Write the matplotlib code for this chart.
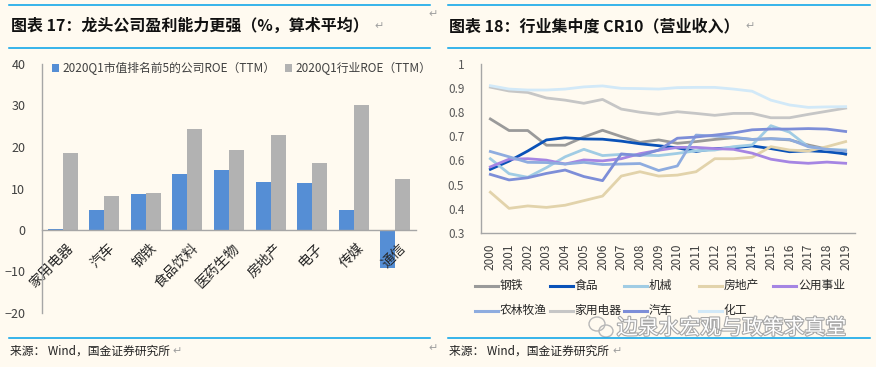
import numpy as np
import matplotlib.pyplot as plt
from matplotlib.lines import Line2D
from matplotlib.patches import Ellipse
import matplotlib.patheffects as pe

plt.rcParams['font.family'] = ['Noto Sans CJK SC', 'DejaVu Sans']

BG = '#fffaf0'
RULE = '#00a0e9'
W, H = 876, 367

# --- left chart: ROE by industry ---
industries = ['家用电器', '汽车', '钢铁', '食品饮料', '医药生物', '房地产', '电子', '传媒', '通信']
top5_roe = [0.2, 4.7, 8.7, 13.4, 14.5, 11.5, 11.4, 4.7, -9.2]
industry_roe = [18.6, 8.3, 8.9, 24.4, 19.2, 23.0, 16.1, 30.1, 12.4]
left_labels = ['2020Q1市值排名前5的公司ROE（TTM）', '2020Q1行业ROE（TTM）']

# --- right chart: CR10 by industry ---
years = list(range(2000, 2020))
steel = [0.772, 0.724, 0.724, 0.663, 0.663, 0.697, 0.725, 0.699, 0.675, 0.685,
         0.671, 0.678, 0.687, 0.694, 0.687, 0.690, 0.685, 0.664, 0.647, 0.625]
food = [0.563, 0.597, 0.639, 0.685, 0.694, 0.689, 0.688, 0.680, 0.669, 0.661,
        0.652, 0.637, 0.649, 0.652, 0.660, 0.649, 0.636, 0.640, 0.636, 0.627]
machinery = [0.607, 0.545, 0.530, 0.570, 0.615, 0.646, 0.620, 0.625, 0.622, 0.620,
             0.629, 0.640, 0.643, 0.657, 0.664, 0.744, 0.717, 0.657, 0.646, 0.643]
real_estate = [0.468, 0.401, 0.411, 0.405, 0.414, 0.433, 0.452, 0.535, 0.553, 0.535,
               0.539, 0.553, 0.607, 0.607, 0.613, 0.657, 0.643, 0.639, 0.657, 0.678]
utilities = [0.573, 0.605, 0.607, 0.601, 0.585, 0.602, 0.598, 0.607, 0.628, 0.642,
             0.654, 0.654, 0.649, 0.646, 0.630, 0.605, 0.593, 0.588, 0.593, 0.588]
agri = [0.637, 0.615, 0.592, 0.591, 0.585, 0.592, 0.583, 0.585, 0.587, 0.558,
        0.577, 0.705, 0.701, 0.696, 0.687, 0.690, 0.687, 0.657, 0.646, 0.639]
appliance = [0.904, 0.888, 0.882, 0.859, 0.850, 0.837, 0.853, 0.813, 0.800, 0.791,
             0.802, 0.795, 0.787, 0.795, 0.795, 0.777, 0.777, 0.791, 0.804, 0.817]
auto = [0.542, 0.519, 0.528, 0.546, 0.560, 0.533, 0.516, 0.627, 0.620, 0.643,
        0.692, 0.697, 0.705, 0.714, 0.727, 0.730, 0.730, 0.732, 0.730, 0.720]
chem = [0.910, 0.896, 0.892, 0.892, 0.896, 0.905, 0.909, 0.899, 0.898, 0.896,
        0.902, 0.903, 0.903, 0.896, 0.887, 0.850, 0.830, 0.820, 0.822, 0.823]

series_names = ['钢铁', '食品', '机械', '房地产', '公用事业', '农林牧渔', '家用电器', '汽车', '化工']
series_data = [steel, food, machinery, real_estate, utilities, agri, appliance, auto, chem]
series_colors = ['#9a9a9a', '#0a52b8', '#a0cce4', '#e2d3ab', '#a585e3',
                 '#8eacdf', '#c6c6c6', '#7d8ed8', '#d2e9f8']

fig = plt.figure(figsize=(W / 100, H / 100), dpi=100, facecolor=BG)


def fx(px):
    return px / W


def fy(py):
    return 1 - py / H


# header / footer rules and texts
for x0, x1 in [(9, 430), (448, 870)]:
    for py in (4.7, 47.7, 338):
        fig.add_artist(Line2D([fx(x0), fx(x1)], [fy(py), fy(py)], color=RULE, lw=1.1,
                              transform=fig.transFigure))

fig.text(fx(11), fy(26), '图表 17：龙头公司盈利能力更强（%，算术平均）', fontsize=11.5,
         fontweight='bold', va='center', color='#111111')
fig.text(fx(449), fy(26), '图表 18：行业集中度 CR10（营业收入）', fontsize=11.5,
         fontweight='bold', va='center', color='#111111')
fig.text(fx(10), fy(351), '来源： Wind，国金证券研究所', fontsize=8.5, va='center', color='#222222')
fig.text(fx(449), fy(351), '来源： Wind，国金证券研究所', fontsize=8.5, va='center', color='#222222')
for px, py in [(374, 26), (428, 14), (745, 26), (172, 351), (428, 348), (612, 351)]:
    fig.text(fx(px), fy(py), '↵', fontsize=8, va='center', color='#a0a0a0',
             family=['DejaVu Sans'])

# ---------------- left chart ----------------
ax1 = fig.add_axes([fx(42), fy(313), fx(416 - 42), (313 - 64) / H])
ax1.set_facecolor(BG)
# spine position first: moving a spine resets the tick labels
ax1.spines['bottom'].set_position(('data', 0))
for sp in ['top', 'right']:
    ax1.spines[sp].set_visible(False)
for sp in ['left', 'bottom']:
    ax1.spines[sp].set_color('#a6a6a6')
    ax1.spines[sp].set_linewidth(1.0)

x = np.arange(len(industries))
bw = 0.36
ax1.bar(x - bw / 2, top5_roe, bw, color='#558ed5', label=left_labels[0])
ax1.bar(x + bw / 2, industry_roe, bw, color='#b2b2b2', label=left_labels[1])
ax1.set_xlim(-0.5, len(industries) - 0.5)
ax1.set_ylim(-20, 40)
ax1.set_yticks(range(-20, 41, 10))
ax1.set_xticks(x + 0.08)
ax1.set_xticklabels(industries)
ax1.tick_params(axis='y', length=0, pad=12, labelsize=9, labelcolor='#404040')
ax1.tick_params(axis='x', length=0, pad=8, labelsize=10, labelcolor='#262626')
for lbl in ax1.get_xticklabels():
    lbl.set_rotation(45)
    lbl.set_ha('right')
    lbl.set_rotation_mode('anchor')
ax1.legend(ncol=2, loc='upper left', bbox_to_anchor=(fx(52), fy(62)), bbox_transform=fig.transFigure,
           frameon=False, fontsize=8.5, handlelength=0.6, handleheight=0.6, handletextpad=0.3,
           columnspacing=0.8, borderpad=0, borderaxespad=0, labelcolor='#404040')

# ---------------- right chart ----------------
ax2 = fig.add_axes([fx(481), fy(232.7), fx(855 - 481), (232.7 - 64) / H])
ax2.set_facecolor(BG)
xi = np.arange(len(years))
for name, vals, col in zip(series_names, series_data, series_colors):
    ax2.plot(xi, vals, color=col, lw=2.0, label=name)
ax2.set_xlim(-0.5, len(years) - 0.5)
ax2.set_ylim(0.3, 1.0)
ax2.set_yticks(np.round(np.arange(0.3, 1.01, 0.1), 1))
ax2.set_yticklabels(['0.3', '0.4', '0.5', '0.6', '0.7', '0.8', '0.9', '1'])
ax2.set_xticks(xi)
ax2.set_xticklabels([str(y) for y in years], rotation=90)
for sp in ['top', 'right']:
    ax2.spines[sp].set_visible(False)
for sp in ['left', 'bottom']:
    ax2.spines[sp].set_color('#a6a6a6')
    ax2.spines[sp].set_linewidth(1.0)
ax2.tick_params(axis='y', length=0, pad=12, labelsize=8.5, labelcolor='#595959')
ax2.tick_params(axis='x', length=0, pad=8, labelsize=8.5, labelcolor='#404040')

# legend laid out in equal-width cells like the source
for i, (name, col) in enumerate(zip(series_names, series_colors)):
    r, c = divmod(i, 5)
    lx = 475 + 74.5 * c
    ly = 285.7 + 25 * r
    fig.add_artist(Line2D([fx(lx), fx(lx + 23)], [fy(ly), fy(ly)], color=col, lw=2.2,
                          transform=fig.transFigure))
    fig.text(fx(lx + 25), fy(ly), name, fontsize=8.5, va='center', color='#262626')

# watermark
fig.add_artist(Ellipse((fx(597), fy(324)), fx(16), 14 / H, fill=False, ec='#b8b8b8', lw=1.0,
                       transform=fig.transFigure))
fig.add_artist(Ellipse((fx(606), fy(331)), fx(14), 12 / H, fill=False, ec='#b8b8b8', lw=1.0,
                       transform=fig.transFigure))
fig.text(fx(617), fy(328), '边泉水宏观与政策求真堂', fontsize=15, va='center', color='white',
         path_effects=[pe.withStroke(linewidth=1.6, foreground='#a8a8a8')])

fig.savefig('out.png', dpi=100, facecolor=BG)
